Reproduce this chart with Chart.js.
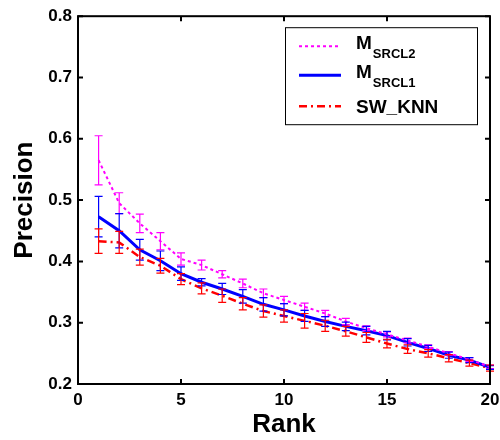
<!DOCTYPE html>
<html>
<head>
<meta charset="utf-8">
<script src="https://cdn.jsdelivr.net/npm/chart.js@4"></script>
<style>
  html, body { margin: 0; padding: 0; background: #fff; }
</style>
</head>
<body>
<canvas id="chart" width="500" height="440"></canvas>
<script>
// precision at each rank, with half-width of the error bar
const ranks = [1, 2, 3, 4, 5, 6, 7, 8, 9, 10, 11, 12, 13, 14, 15, 16, 17, 18, 19, 20];
const srcl2Mean = [0.565, 0.495, 0.462, 0.433, 0.404, 0.394, 0.379, 0.364, 0.348, 0.337, 0.326, 0.315, 0.302, 0.291, 0.281, 0.271, 0.261, 0.250, 0.240, 0.228];
const srcl2Err  = [0.040, 0.017, 0.015, 0.014, 0.010, 0.008, 0.006, 0.007, 0.007, 0.006, 0.006, 0.005, 0.005, 0.004, 0.004, 0.004, 0.003, 0.003, 0.003, 0.003];
const srcl1Mean = [0.473, 0.450, 0.419, 0.401, 0.380, 0.366, 0.355, 0.343, 0.330, 0.321, 0.311, 0.302, 0.294, 0.287, 0.279, 0.268, 0.258, 0.247, 0.239, 0.227];
const srcl1Err  = [0.033, 0.028, 0.017, 0.016, 0.011, 0.006, 0.009, 0.011, 0.011, 0.010, 0.009, 0.008, 0.007, 0.007, 0.007, 0.006, 0.005, 0.005, 0.004, 0.003];
const knnMean   = [0.433, 0.431, 0.407, 0.393, 0.371, 0.356, 0.344, 0.331, 0.319, 0.311, 0.303, 0.295, 0.286, 0.276, 0.266, 0.257, 0.250, 0.242, 0.234, 0.226];
const knnErr    = [0.020, 0.018, 0.013, 0.012, 0.009, 0.009, 0.011, 0.010, 0.010, 0.010, 0.012, 0.009, 0.008, 0.008, 0.007, 0.007, 0.006, 0.006, 0.005, 0.005];

const FONT = '"Liberation Sans", Arial, sans-serif';
const pts = (arr) => arr.map((v, i) => ({ x: ranks[i], y: v }));

// vertical error bars with small caps
const errorBars = {
    id: 'errorBars',
    afterDatasetsDraw(chart) {
        const ctx = chart.ctx;
        const xs = chart.scales.x, ys = chart.scales.y;
        chart.data.datasets.forEach(ds => {
            ctx.save();
            ctx.strokeStyle = ds.borderColor;
            ctx.lineWidth = 1.2;
            ds.data.forEach((p, i) => {
                const px = xs.getPixelForValue(p.x);
                const top = ys.getPixelForValue(p.y + ds.errors[i]);
                const bot = ys.getPixelForValue(p.y - ds.errors[i]);
                ctx.beginPath();
                ctx.moveTo(px, top); ctx.lineTo(px, bot);
                ctx.moveTo(px - 4, top); ctx.lineTo(px + 4, top);
                ctx.moveTo(px - 4, bot); ctx.lineTo(px + 4, bot);
                ctx.stroke();
            });
            ctx.restore();
        });
    }
};

// matlab style box with inward ticks, plus legend
const frame = {
    id: 'frame',
    afterDraw(chart) {
        const ctx = chart.ctx;
        const a = chart.chartArea;
        const xs = chart.scales.x, ys = chart.scales.y;
        ctx.save();
        ctx.strokeStyle = '#000';
        ctx.lineWidth = 2;
        ctx.strokeRect(a.left, a.top, a.right - a.left, a.bottom - a.top);
        ctx.beginPath();
        xs.ticks.forEach(t => {
            const px = xs.getPixelForValue(t.value);
            ctx.moveTo(px, a.bottom); ctx.lineTo(px, a.bottom - 5);
            ctx.moveTo(px, a.top); ctx.lineTo(px, a.top + 5);
        });
        ys.ticks.forEach(t => {
            const py = ys.getPixelForValue(t.value);
            ctx.moveTo(a.left, py); ctx.lineTo(a.left + 5, py);
            ctx.moveTo(a.right, py); ctx.lineTo(a.right - 5, py);
        });
        ctx.stroke();

        // legend
        const lx = a.right - 205, ly = a.top + 11, lw = 192, lh = 97;
        ctx.fillStyle = '#fff';
        ctx.fillRect(lx, ly, lw, lh);
        ctx.lineWidth = 1;
        ctx.strokeRect(lx + 0.5, ly + 0.5, lw, lh);
        const rows = [
            { ds: chart.data.datasets[0], y: ly + 19, main: 'M', sub: 'SRCL2' },
            { ds: chart.data.datasets[1], y: ly + 48, main: 'M', sub: 'SRCL1' },
            { ds: chart.data.datasets[2], y: ly + 79, main: 'SW_KNN', sub: '' }
        ];
        rows.forEach(r => {
            ctx.strokeStyle = r.ds.borderColor;
            ctx.lineWidth = r.ds.borderWidth;
            ctx.setLineDash(r.ds.borderDash || []);
            ctx.beginPath();
            ctx.moveTo(lx + 14, r.y); ctx.lineTo(lx + 56, r.y);
            ctx.stroke();
            ctx.setLineDash([]);
            ctx.fillStyle = '#000';
            ctx.textBaseline = 'alphabetic';
            ctx.textAlign = 'left';
            ctx.font = 'bold 19px ' + FONT;
            const base = r.sub ? r.y + 3 : r.y + 7;
            ctx.fillText(r.main, lx + 71, base);
            if (r.sub) {
                const w = ctx.measureText(r.main).width;
                ctx.font = 'bold 13px ' + FONT;
                ctx.fillText(r.sub, lx + 71 + w + 1, base + 9);
            }
        });
        ctx.restore();
    }
};

const tickFont = { family: FONT, size: 17, weight: 'bold' };

new Chart(document.getElementById('chart').getContext('2d'), {
    type: 'line',
    data: {
        datasets: [
            {
                label: 'M_SRCL2',
                data: pts(srcl2Mean),
                errors: srcl2Err,
                borderColor: '#ff00ff',
                borderWidth: 2,
                borderDash: [3, 3],
                pointRadius: 0,
                fill: false
            },
            {
                label: 'M_SRCL1',
                data: pts(srcl1Mean),
                errors: srcl1Err,
                borderColor: '#0000ff',
                borderWidth: 3,
                pointRadius: 0,
                fill: false
            },
            {
                label: 'SW_KNN',
                data: pts(knnMean),
                errors: knnErr,
                borderColor: '#ff0000',
                borderWidth: 2.5,
                borderDash: [8, 4, 2, 4],
                pointRadius: 0,
                fill: false
            }
        ]
    },
    options: {
        responsive: false,
        animation: false,
        devicePixelRatio: 1,
        layout: { padding: { top: 14, right: 10, left: 0, bottom: 0 } },
        plugins: {
            legend: { display: false },
            tooltip: { enabled: false }
        },
        scales: {
            x: {
                type: 'linear',
                min: 0,
                max: 20,
                ticks: { stepSize: 5, font: tickFont, color: '#000', padding: 6 },
                grid: { display: false, drawTicks: false },
                border: { display: false },
                title: { display: true, text: 'Rank', color: '#000', font: { family: FONT, size: 26, weight: 'bold' }, padding: { top: 0, bottom: 0 } },
                afterFit: (s) => { s.height = 56; s.paddingLeft = 0; s.paddingRight = 0; }
            },
            y: {
                min: 0.2,
                max: 0.8,
                ticks: { stepSize: 0.1, font: tickFont, color: '#000', padding: 6, callback: (v) => v.toFixed(1) },
                grid: { display: false, drawTicks: false },
                border: { display: false },
                title: { display: true, text: 'Precision', color: '#000', font: { family: FONT, size: 26, weight: 'bold' }, padding: { top: 9, bottom: 0 } },
                afterFit: (s) => { s.width = 78; }
            }
        }
    },
    plugins: [errorBars, frame]
});
</script>
</body>
</html>
